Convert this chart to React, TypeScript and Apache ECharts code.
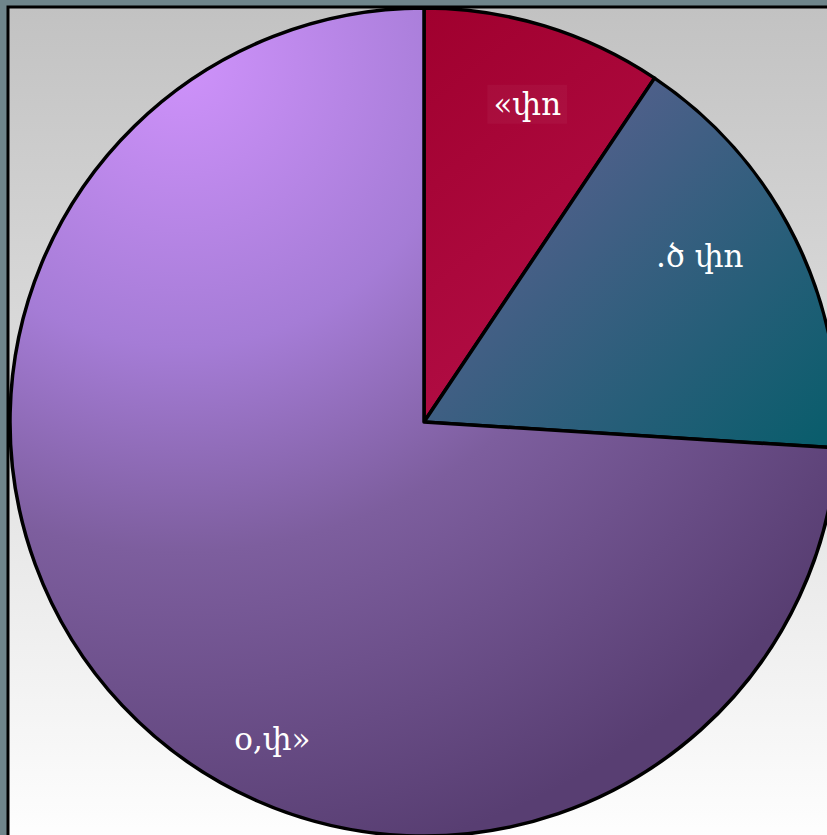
import React, { useEffect, useRef } from "react";
import * as echarts from "echarts";

const categories = ["«փn", ".ծ փn", "o,փ»"];
const values = [9.4, 16.6, 74.0];

const CX = 424;
const CY = 422;
const R = 414;

export default function App() {
  const ref = useRef<HTMLDivElement>(null);
  useEffect(() => {
    document.body.style.margin = "0";
    const chart = echarts.init(ref.current!, null, { renderer: "svg" });
    const colors = [
      {
        type: "linear", x: 424, y: 8, x2: 655, y2: 300, global: true,
        colorStops: [
          { offset: 0, color: "#a0002e" },
          { offset: 1, color: "#b20d45" },
        ],
      },
      {
        type: "linear", x: 500, y: 120, x2: 820, y2: 440, global: true,
        colorStops: [
          { offset: 0, color: "#5c6090" },
          { offset: 1, color: "#0a5d6c" },
        ],
      },
      {
        type: "radial", x: 180, y: 60, r: 820, global: true,
        colorStops: [
          { offset: 0, color: "#cf92fb" },
          { offset: 0.35, color: "#a57cd6" },
          { offset: 0.6, color: "#7d5e9e" },
          { offset: 1, color: "#583e72" },
        ],
      },
    ];
    const data = categories.map((name, i) => ({
      name,
      value: values[i],
      itemStyle: { color: colors[i] as any },
    }));
    const offsets = [[6, 2], [-24, -18], [92, 88]];
    const labelBg = ["rgba(255,255,255,0.04)", "transparent", "transparent"];
    const labelData = categories.map((name, i) => ({
      name,
      value: values[i],
      label: { offset: offsets[i], backgroundColor: labelBg[i] },
    }));
    chart.setOption({
      animation: false,
      graphic: [
        {
          type: "rect",
          silent: true,
          z: -10,
          shape: { x: 0, y: 0, width: 827, height: 835 },
          style: { fill: "#6f858b" },
        },
        {
          type: "rect",
          silent: true,
          z: -9,
          shape: { x: 8, y: 7, width: 840, height: 850 },
          style: {
            fill: new echarts.graphic.LinearGradient(0, 0, 0, 1, [
              { offset: 0, color: "#c2c2c2" },
              { offset: 1, color: "#ffffff" },
            ]),
            stroke: "#000000",
            lineWidth: 3,
          },
        },
      ],
      series: [
        {
          type: "pie",
          center: [CX, CY],
          radius: [0, R],
          startAngle: 90,
          clockwise: true,
          silent: true,
          label: { show: false },
          labelLine: { show: false },
          itemStyle: { borderColor: "#000000", borderWidth: 3.5 },
          data,
        },
        {
          type: "pie",
          center: [CX, CY],
          radius: [R * 0.62, R * 0.98],
          startAngle: 90,
          clockwise: true,
          silent: true,
          itemStyle: { color: "rgba(0,0,0,0)", borderWidth: 0 },
          labelLine: { show: false },
          label: {
            show: true,
            position: "inside",
            formatter: "{b}",
            color: "#ffffff",
            fontFamily: "DejaVu Serif, serif",
            fontSize: 31,
            padding: [4, 6],
          },
          data: labelData,
        },
      ],
    });
    return () => chart.dispose();
  }, []);
  return (
    <div
      ref={ref}
      style={{ position: "absolute", left: 0, top: 0, width: 827, height: 835 }}
    />
  );
}
